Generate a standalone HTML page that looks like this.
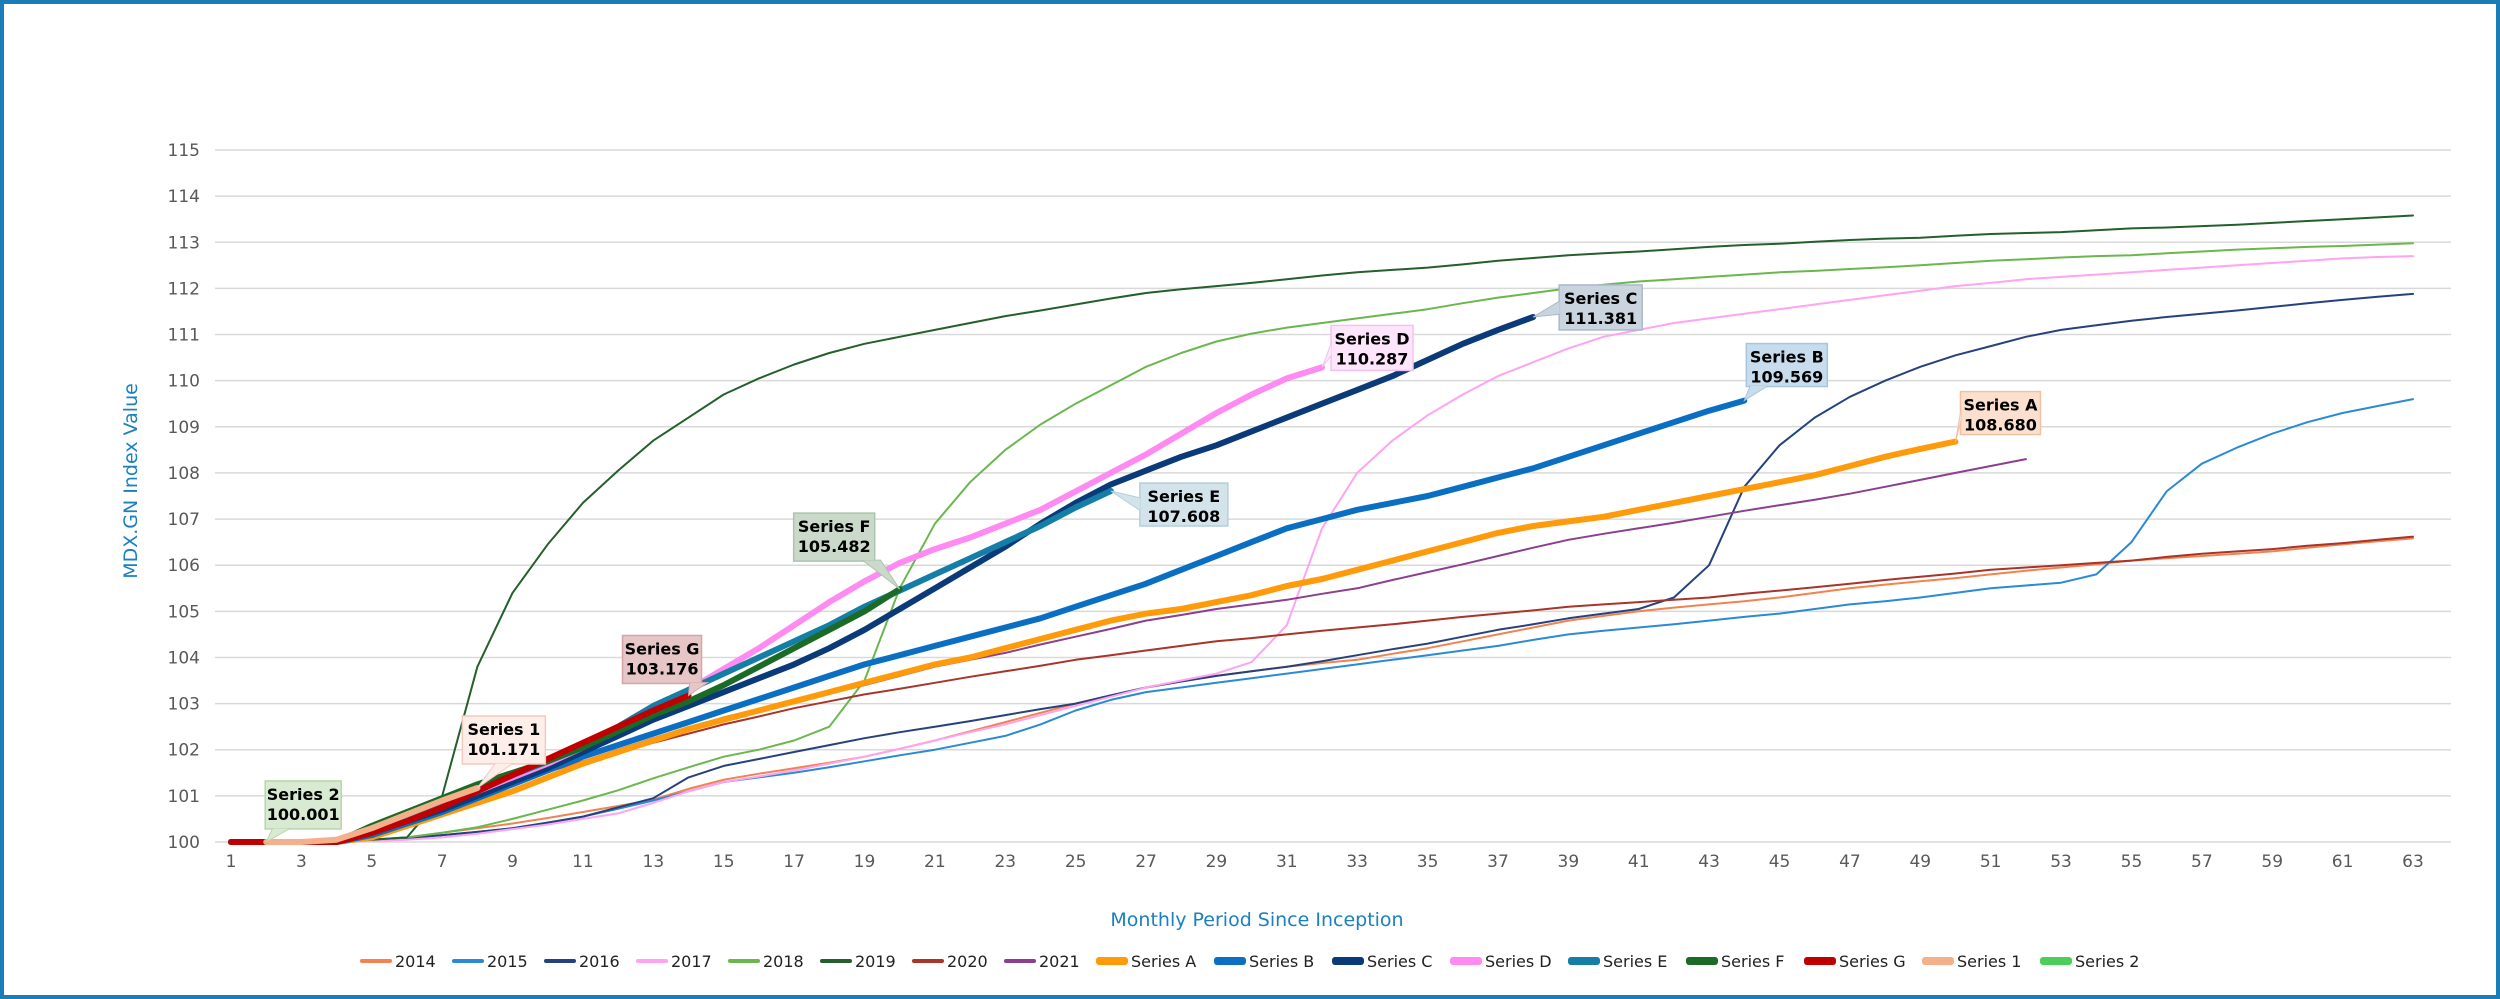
<!DOCTYPE html>
<html><head><meta charset="utf-8">
<style>
html,body{margin:0;padding:0;background:#fff;}
#frame{position:relative;width:2500px;height:999px;box-sizing:border-box;border:4px solid #1b7db8;overflow:hidden;font-family:"DejaVu Sans","Liberation Sans",sans-serif;}
svg{position:absolute;left:-4px;top:-4px;}
#legend{position:absolute;left:356px;top:944px;height:26px;display:flex;align-items:center;font-size:16px;color:#222;}
.li{display:flex;align-items:center;}
.sw{display:inline-block;width:32px;margin-right:3px;border-radius:3px;}
</style></head>
<body>
<div id="frame">
<svg id="chart" width="2500" height="999"></svg>
<div id="legend"></div>
</div>
<script>
const months = Array.from({length:63},(_, i)=>i+1);
const yTicks = [100,101,102,103,104,105,106,107,108,109,110,111,112,113,114,115];
const xTickLabels = [1,3,5,7,9,11,13,15,17,19,21,23,25,27,29,31,33,35,37,39,41,43,45,47,49,51,53,55,57,59,61,63];
const seriesNames = ["2014","2015","2016","2017","2018","2019","2020","2021","Series A","Series B","Series C","Series D","Series E","Series F","Series G","Series 1","Series 2"];
const v2014 = [100,100,100,100.02,100.05,100.1,100.2,100.3,100.4,100.52,100.65,100.78,100.92,101.15,101.35,101.48,101.6,101.72,101.85,102.02,102.2,102.4,102.6,102.8,103.0,103.18,103.35,103.48,103.6,103.7,103.8,103.88,103.95,104.08,104.2,104.35,104.5,104.65,104.8,104.9,105.0,105.08,105.15,105.22,105.3,105.4,105.5,105.58,105.65,105.72,105.8,105.88,105.95,106.02,106.1,106.15,106.2,106.25,106.3,106.38,106.45,106.52,106.58];
const v2015 = [100,100,100,100.02,100.05,100.08,100.15,100.22,100.3,100.42,100.55,100.72,100.9,101.1,101.3,101.4,101.5,101.62,101.75,101.88,102.0,102.15,102.3,102.55,102.85,103.08,103.25,103.35,103.45,103.55,103.65,103.75,103.85,103.95,104.05,104.15,104.25,104.38,104.5,104.58,104.65,104.72,104.8,104.88,104.95,105.05,105.15,105.22,105.3,105.4,105.5,105.56,105.62,105.8,106.5,107.6,108.2,108.55,108.85,109.1,109.3,109.45,109.6];
const v2016 = [100,100,100,100.02,100.05,100.08,100.15,100.22,100.3,100.42,100.55,100.75,100.95,101.4,101.65,101.8,101.95,102.1,102.25,102.38,102.5,102.62,102.75,102.88,103.0,103.18,103.35,103.48,103.6,103.7,103.8,103.92,104.05,104.18,104.3,104.45,104.6,104.72,104.85,104.95,105.05,105.3,106.0,107.7,108.6,109.2,109.65,110.0,110.3,110.55,110.75,110.95,111.1,111.2,111.3,111.38,111.45,111.52,111.6,111.68,111.75,111.82,111.88];
const v2017 = [100,100,100,100.01,100.02,100.05,100.1,100.18,100.28,100.38,100.5,100.62,100.85,101.1,101.3,101.42,101.55,101.7,101.85,102.02,102.2,102.38,102.55,102.75,102.95,103.15,103.35,103.5,103.65,103.9,104.7,106.8,108.0,108.7,109.25,109.7,110.1,110.4,110.7,110.95,111.1,111.25,111.35,111.45,111.55,111.65,111.75,111.85,111.95,112.05,112.12,112.2,112.25,112.3,112.35,112.4,112.45,112.5,112.55,112.6,112.65,112.68,112.7];
const v2018 = [100,100,100,100.02,100.05,100.1,100.2,100.32,100.5,100.7,100.9,101.12,101.38,101.62,101.85,102.0,102.2,102.5,103.5,105.5,106.9,107.8,108.5,109.05,109.5,109.9,110.3,110.6,110.85,111.02,111.15,111.25,111.35,111.45,111.55,111.68,111.8,111.9,112.0,112.08,112.15,112.2,112.25,112.3,112.35,112.38,112.42,112.46,112.5,112.55,112.6,112.63,112.67,112.7,112.72,112.76,112.8,112.84,112.87,112.9,112.92,112.95,112.98];
const v2019 = [100,100,100,100.02,100.05,100.1,101.0,103.8,105.4,106.45,107.35,108.05,108.7,109.2,109.7,110.05,110.35,110.6,110.8,110.95,111.1,111.25,111.4,111.52,111.65,111.78,111.9,111.98,112.05,112.12,112.2,112.28,112.35,112.4,112.45,112.52,112.6,112.66,112.72,112.76,112.8,112.85,112.9,112.94,112.97,113.01,113.05,113.08,113.1,113.14,113.18,113.2,113.22,113.26,113.3,113.32,113.35,113.38,113.42,113.46,113.5,113.54,113.58];
const v2020 = [100,100,100,100.05,100.3,100.58,100.85,101.1,101.35,101.55,101.75,101.95,102.15,102.35,102.55,102.72,102.9,103.05,103.2,103.32,103.45,103.58,103.7,103.82,103.95,104.05,104.15,104.25,104.35,104.42,104.5,104.58,104.65,104.72,104.8,104.88,104.95,105.02,105.1,105.15,105.2,105.25,105.3,105.38,105.45,105.52,105.6,105.68,105.75,105.82,105.9,105.95,106.0,106.05,106.1,106.18,106.25,106.3,106.35,106.42,106.48,106.55,106.62];
const v2021 = [100,100,100,100.05,100.3,100.55,100.8,101.05,101.3,101.52,101.75,102.0,102.25,102.48,102.7,102.88,103.05,103.22,103.4,103.6,103.8,103.95,104.1,104.28,104.45,104.62,104.8,104.92,105.05,105.15,105.25,105.38,105.5,105.68,105.85,106.02,106.2,106.38,106.55,106.68,106.8,106.92,107.05,107.18,107.3,107.42,107.55,107.7,107.85,108.0,108.15,108.3];
const vA = [100,100,100,100,100.1,100.35,100.6,100.85,101.1,101.4,101.7,101.95,102.2,102.45,102.65,102.85,103.05,103.25,103.45,103.65,103.85,104.0,104.2,104.4,104.6,104.8,104.95,105.05,105.2,105.35,105.55,105.7,105.9,106.1,106.3,106.5,106.7,106.85,106.95,107.05,107.2,107.35,107.5,107.65,107.8,107.95,108.15,108.35,108.52,108.68];
const vB = [100,100,100,100,100.15,100.4,100.65,100.95,101.25,101.55,101.85,102.1,102.35,102.6,102.85,103.1,103.35,103.6,103.85,104.05,104.25,104.45,104.65,104.85,105.1,105.35,105.6,105.9,106.2,106.5,106.8,107.0,107.2,107.35,107.5,107.7,107.9,108.1,108.35,108.6,108.85,109.1,109.35,109.569];
const vC = [100,100,100,100,100.2,100.45,100.7,101.0,101.3,101.6,101.95,102.3,102.65,102.95,103.25,103.55,103.85,104.2,104.6,105.05,105.5,105.95,106.4,106.9,107.35,107.75,108.05,108.35,108.6,108.9,109.2,109.5,109.8,110.1,110.45,110.8,111.1,111.381];
const vD = [100,100,100,100,100.25,100.5,100.8,101.1,101.4,101.7,102.05,102.45,102.85,103.3,103.75,104.2,104.7,105.2,105.65,106.05,106.35,106.6,106.9,107.2,107.6,108.0,108.4,108.85,109.3,109.7,110.05,110.287];
const vE = [100,100,100,100,100.25,100.55,100.85,101.15,101.45,101.75,102.1,102.5,102.95,103.3,103.65,104.0,104.35,104.7,105.1,105.45,105.8,106.15,106.5,106.85,107.25,107.608];
const vF = [100,100,100,100,100.35,100.65,100.95,101.25,101.5,101.75,102.05,102.4,102.75,103.05,103.4,103.8,104.2,104.6,105.0,105.482];
const vG = [100,100,100,100,100.2,100.45,100.75,101.1,101.45,101.8,102.15,102.5,102.85,103.176];
const v1 = [null,100,100,100.05,100.3,100.6,100.9,101.171];
const v2 = [100,100.001];

const seriesValues = [v2014,v2015,v2016,v2017,v2018,v2019,v2020,v2021,vA,vB,vC,vD,vE,vF,vG,v1,v2];
const colors = ["#f0834f","#2a8ad4","#26427e","#ffa3f2","#6ab74e","#245f2c","#a8342a","#8b3f8e","#ff9a0a","#0a6fc2","#0b3a78","#ff8af2","#147ea6","#1b6a26","#c00000","#f4b08a","#4ccf5a"];
const widths = [2,2,2,2,2,2,2,2,6,6,6,6,6,6,6,6,6];
const legendWidths = [92,92,92,92,92,92,92,92,118,118,118,118,118,118,118,118,118];
const drawOrder = [16,0,1,2,3,4,5,6,7,8,9,10,11,12,13,14,15];
const callouts = [
 {s:16, dx:-1, dy:-61, w:76, h:48, fill:"#d9ead3", stroke:"#b6d7a8", px:0.1},
 {s:15, dx:-15, dy:-72, w:83, h:48, fill:"#fdeeea", stroke:"#f3c9bb", px:0.4},
 {s:14, dx:-66, dy:-60, w:79, h:48, fill:"#e6c6c6", stroke:"#d3a5a5", px:0.85},
 {s:13, dx:-106, dy:-76, w:81, h:48, fill:"#cbd9cb", stroke:"#aec3ae", px:0.85},
 {s:12, dx:29, dy:-8, w:88, h:43, fill:"#d3e3ea", stroke:"#b3cfdb", px:-1},
 {s:11, dx:9, dy:-42, w:82, h:45, fill:"#fde6fb", stroke:"#f1c3ec", px:-1},
 {s:10, dx:26, dy:-32, w:83, h:45, fill:"#c9d4df", stroke:"#a9b9c9", px:-1},
 {s:9, dx:2, dy:-57, w:81, h:43, fill:"#c7dcec", stroke:"#a6c5de", px:-2},
 {s:8, dx:5, dy:-50, w:80, h:43, fill:"#fbe0cf", stroke:"#efc2a5", px:-1}
];

const X0=231, X1=2413, Y0=842, Y1=150;
const xS = m => X0 + (m-1)*(X1-X0)/62;
const yS = v => Y0 - (v-100)*(Y0-Y1)/15;
const NS="http://www.w3.org/2000/svg";
const svg=document.getElementById('chart');
function mk(tag, attrs, parent){const e=document.createElementNS(NS,tag);for(const k in attrs)e.setAttribute(k,attrs[k]);(parent||svg).appendChild(e);return e;}

yTicks.forEach(t=>{
  const g=mk('line',{x1:215,x2:2451,y1:yS(t),y2:yS(t),stroke:"#d9d9d9","stroke-width":1.5});
  
  
  const tx=mk('text',{x:200,y:yS(t)+6,"text-anchor":"end","font-size":17,fill:"#595959"});
  tx.textContent=t;
  
  
});
xTickLabels.forEach(m=>{
  const tx=mk('text',{x:xS(m),y:867,"text-anchor":"middle","font-size":17,fill:"#595959"});
  tx.textContent=m;
  
  
});
const yt=mk('text',{x:0,y:0,transform:"translate(137,481) rotate(-90)","text-anchor":"middle","font-size":19,fill:"#1a80c0"});
yt.textContent="MDX.GN Index Value";


const xt=mk('text',{x:1257,y:926,"text-anchor":"middle","font-size":19,fill:"#1a80c0"});
xt.textContent="Monthly Period Since Inception";



drawOrder.forEach(i=>{
  const vals=seriesValues[i];
  let d="";
  vals.forEach((v,j)=>{ if(v===null) return; d += (d?"L":"M")+xS(months[j]).toFixed(1)+" "+yS(v).toFixed(1); });
  const p=mk('path',{d:d,fill:"none",stroke:colors[i],"stroke-width":widths[i],"stroke-linejoin":"round","stroke-linecap":"round"});
  
  
});

callouts.forEach(c=>{
  const vals=seriesValues[c.s];
  const last=vals.length-1;
  const tx=xS(months[last]), ty=yS(vals[last]);
  const bx=tx+c.dx, by=ty+c.dy;
  const g=mk('g',{});
  
  
  let pts;
  if(c.px>=0){ const ax=bx+c.w*c.px; pts=[[ax,by+c.h-1],[ax+18,by+c.h-1],[tx,ty]]; }
  else if(c.px===-1){ pts=[[bx+1,by+c.h*0.35],[bx+1,by+c.h*0.65],[tx,ty]]; }
  else { pts=[[bx+4,by+c.h-1],[bx+22,by+c.h-1],[tx,ty]]; }
  mk('rect',{x:bx,y:by,width:c.w,height:c.h,fill:c.fill,stroke:c.stroke,"stroke-width":1.5},g);
  mk('polygon',{points:pts.map(p=>p.join(',')).join(' '),fill:c.fill,stroke:c.stroke,"stroke-width":1},g);
  mk('rect',{x:bx+1,y:by+1,width:c.w-2,height:c.h-2,fill:c.fill},g);
  const t1=mk('text',{x:bx+c.w/2,y:by+19,"text-anchor":"middle","font-size":16,"font-weight":"bold",fill:"#000"},g);
  t1.textContent=seriesNames[c.s];
  const t2=mk('text',{x:bx+c.w/2,y:by+39,"text-anchor":"middle","font-size":16,"font-weight":"bold",fill:"#000"},g);
  t2.textContent=vals[last].toFixed(3);
});

const leg=document.getElementById('legend');
seriesNames.forEach((n,i)=>{
  const it=document.createElement('div');
  it.className='li';
  it.style.width=legendWidths[i]+'px';
  
  
  const sw=document.createElement('span');
  sw.className='sw';
  sw.style.height=(widths[i]>3?8:4)+'px';
  sw.style.background=colors[i];
  const tx=document.createElement('span');
  tx.textContent=n;
  it.appendChild(sw);it.appendChild(tx);
  leg.appendChild(it);
});
</script>
</body></html>
